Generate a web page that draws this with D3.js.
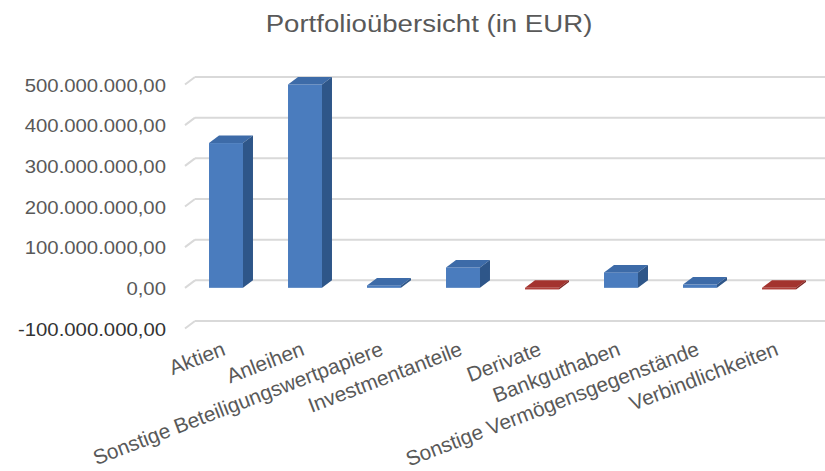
<!DOCTYPE html>
<html>
<head>
<meta charset="utf-8">
<script src="https://cdn.jsdelivr.net/npm/d3@7/dist/d3.min.js"></script>
<style>
  body { margin: 0; background: #fff; }
  svg { display: block; font-family: "Liberation Sans", Arial, sans-serif; }
</style>
</head>
<body>
<svg id="chart" width="825" height="471"></svg>
<script>
// data
var categories = ['Aktien', 'Anleihen', 'Sonstige Beteiligungswertpapiere', 'Investmentanteile',
  'Derivate', 'Bankguthaben', 'Sonstige Vermögensgegenstände', 'Verbindlichkeiten'];
var values = [356000000, 500000000, 6000000, 50000000, -4000000, 38000000, 8000000, -4000000];
var y_ticks = [-100000000, 0, 100000000, 200000000, 300000000, 400000000, 500000000];
var title_text = 'Portfolioübersicht (in EUR)';

var svg = d3.select('#chart');

// 3d depth offset of the back wall
var depth = {dx: 10, dy: -7.5};

var y_front = d3.scaleLinear()
  .domain([-100000000, 500000000])
  .range([328.5, 84.5]);

var x_scale = d3.scaleBand()
  .domain(categories)
  .range([186.5, 818.5])
  .padding(0);

var bar_w = x_scale.bandwidth() * 0.43;

var de = d3.formatLocale({decimal: ',', thousands: '.', grouping: [3], currency: ['', ' €'], minus: '-'});
var fmt = de.format(',.2f');

// title
svg.append('text')
  .attr('x', 429)
  .attr('y', 32)
  .attr('text-anchor', 'middle')
  .attr('transform', 'translate(429,0) scale(1.15,1) translate(-429,0)')
  .style('font-size', '24px')
  .style('fill', '#595959')
  .text(title_text);

// grid lines: short slant on the side wall, then along the back wall
var grid = svg.append('g').attr('class', 'grid');
grid.selectAll('.slant')
  .data(y_ticks)
  .enter()
  .append('line')
  .attr('x1', 185)
  .attr('y1', function(d) { return y_front(d); })
  .attr('x2', 185 + depth.dx)
  .attr('y2', function(d) { return y_front(d) + depth.dy; })
  .style('stroke', '#d9d9d9')
  .style('stroke-width', '2px');

grid.selectAll('.horz_lines')
  .data(y_ticks)
  .enter()
  .append('line')
  .attr('x1', 185 + depth.dx)
  .attr('x2', 825)
  .attr('y1', function(d) { return y_front(d) + depth.dy; })
  .attr('y2', function(d) { return y_front(d) + depth.dy; })
  .style('stroke', '#d9d9d9')
  .style('stroke-width', '2px');

// y labels
svg.append('g')
  .selectAll('text')
  .data(y_ticks)
  .enter()
  .append('text')
  .attr('x', 166)
  .attr('y', function(d) { return y_front(d) + 1; })
  .attr('dy', '0.35em')
  .attr('text-anchor', 'end')
  .attr('transform', 'translate(166,0) scale(1.13,1) translate(-166,0)')
  .style('font-size', '18px')
  .style('fill', function(d) { return d < 0 ? '#333333' : '#595959'; })
  .text(function(d) { return fmt(d); });

// bars
var colors = {
  pos: {front: '#4a7cbe', top: '#3d6ba8', side: '#2e5689'},
  neg: {front: '#b0413c', top: '#a3332e', side: '#7f2623'}
};

var bars = svg.append('g')
  .selectAll('.bar')
  .data(categories.map(function(c, i) { return {name: c, value: values[i]}; }))
  .enter()
  .append('g')
  .attr('class', 'bar');

function top_y(d) { return y_front(Math.max(d.value, 0)); }
function bot_y(d) { return y_front(Math.min(d.value, 0)); }
function left_x(d) { return x_scale(d.name) + (x_scale.bandwidth() - bar_w) / 2; }
function pal(d) { return d.value < 0 ? colors.neg : colors.pos; }

bars.append('rect')
  .attr('x', left_x)
  .attr('y', top_y)
  .attr('width', bar_w)
  .attr('height', function(d) { return bot_y(d) - top_y(d); })
  .style('fill', function(d) { return pal(d).front; });

bars.append('polygon')
  .attr('points', function(d) {
    var x0 = left_x(d), yt = top_y(d);
    return [[x0, yt], [x0 + depth.dx, yt + depth.dy], [x0 + bar_w + depth.dx, yt + depth.dy], [x0 + bar_w, yt]]
      .map(function(p) { return p.join(','); }).join(' ');
  })
  .style('fill', function(d) { return pal(d).top; });

bars.append('polygon')
  .attr('points', function(d) {
    var x1 = left_x(d) + bar_w, yt = top_y(d), yb = bot_y(d);
    return [[x1, yt], [x1 + depth.dx, yt + depth.dy], [x1 + depth.dx, yb + depth.dy], [x1, yb]]
      .map(function(p) { return p.join(','); }).join(' ');
  })
  .style('fill', function(d) { return pal(d).side; });

// rotated category labels
svg.append('g')
  .selectAll('text')
  .data(categories)
  .enter()
  .append('text')
  .attr('transform', function(d) {
    return 'translate(' + (x_scale(d) + x_scale.bandwidth() / 2 - 5) + ',340) rotate(-21)';
  })
  .attr('dy', '0.75em')
  .attr('text-anchor', 'end')
  .style('font-size', '20.8px')
  .style('fill', '#595959')
  .text(function(d) { return d; });
</script>
</body>
</html>
